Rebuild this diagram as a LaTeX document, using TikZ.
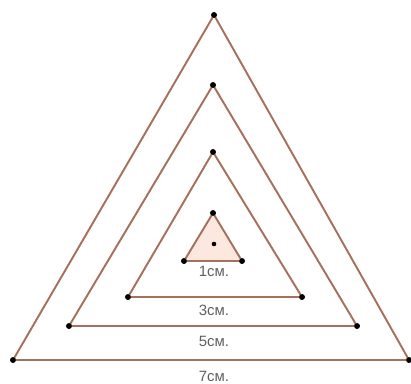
\documentclass[tikz,border=0pt]{standalone}
\usepackage{fontspec}
\setmainfont{Liberation Sans}
\usepackage{tikz}
\usepackage{xcolor}

\definecolor{tribrown}{RGB}{165,112,92}
\definecolor{trifill}{RGB}{252,232,222}
\definecolor{labelgray}{RGB}{95,95,95}

\tikzset{
  side/.style={draw=tribrown, line width=1.1pt, line join=miter},
  dot/.style={circle, fill=black, inner sep=0pt, minimum size=3.2pt},
  cmlabel/.style={text=labelgray, font=\fontsize{8.5}{10}\selectfont, inner sep=0pt}
}

\begin{document}
\begin{tikzpicture}[x=0.02cm, y=-0.02cm]
\useasboundingbox (0,0) rectangle (411,383);

% vertices
\node[dot] (A7) at (214,15) {};
\node[dot] (L7) at (13,360) {};
\node[dot] (R7) at (409,360) {};
\node[dot] (A5) at (213,85) {};
\node[dot] (L5) at (69,326) {};
\node[dot] (R5) at (357,326) {};
\node[dot] (A3) at (213,152) {};
\node[dot] (L3) at (128,297) {};
\node[dot] (R3) at (302,297) {};
\node[dot] (A1) at (213,213) {};
\node[dot] (L1) at (184,261) {};
\node[dot] (R1) at (242,261) {};
\node[dot, minimum size=2.6pt] (C) at (214,244) {};

% triangles
\draw[side] (A7.center) -- (L7.center) -- (R7.center) -- cycle;
\draw[side] (A5.center) -- (L5.center) -- (R5.center) -- cycle;
\draw[side] (A3.center) -- (L3.center) -- (R3.center) -- cycle;
\draw[side, fill=trifill] (A1.center) -- (L1.center) -- (R1.center) -- cycle;

% redraw dots on top
\foreach \v in {A7,L7,R7,A5,L5,R5,A3,L3,R3,A1,L1,R1}
  \fill (\v) circle (1.6pt);
\fill (C) circle (1.3pt);

% labels
\node[cmlabel] (t1) at (214,271) {1см.};
\node[cmlabel] (t3) at (214,310) {3см.};
\node[cmlabel] (t5) at (214,341) {5см.};
\node[cmlabel] (t7) at (214,376) {7см.};
\end{tikzpicture}
\end{document}
